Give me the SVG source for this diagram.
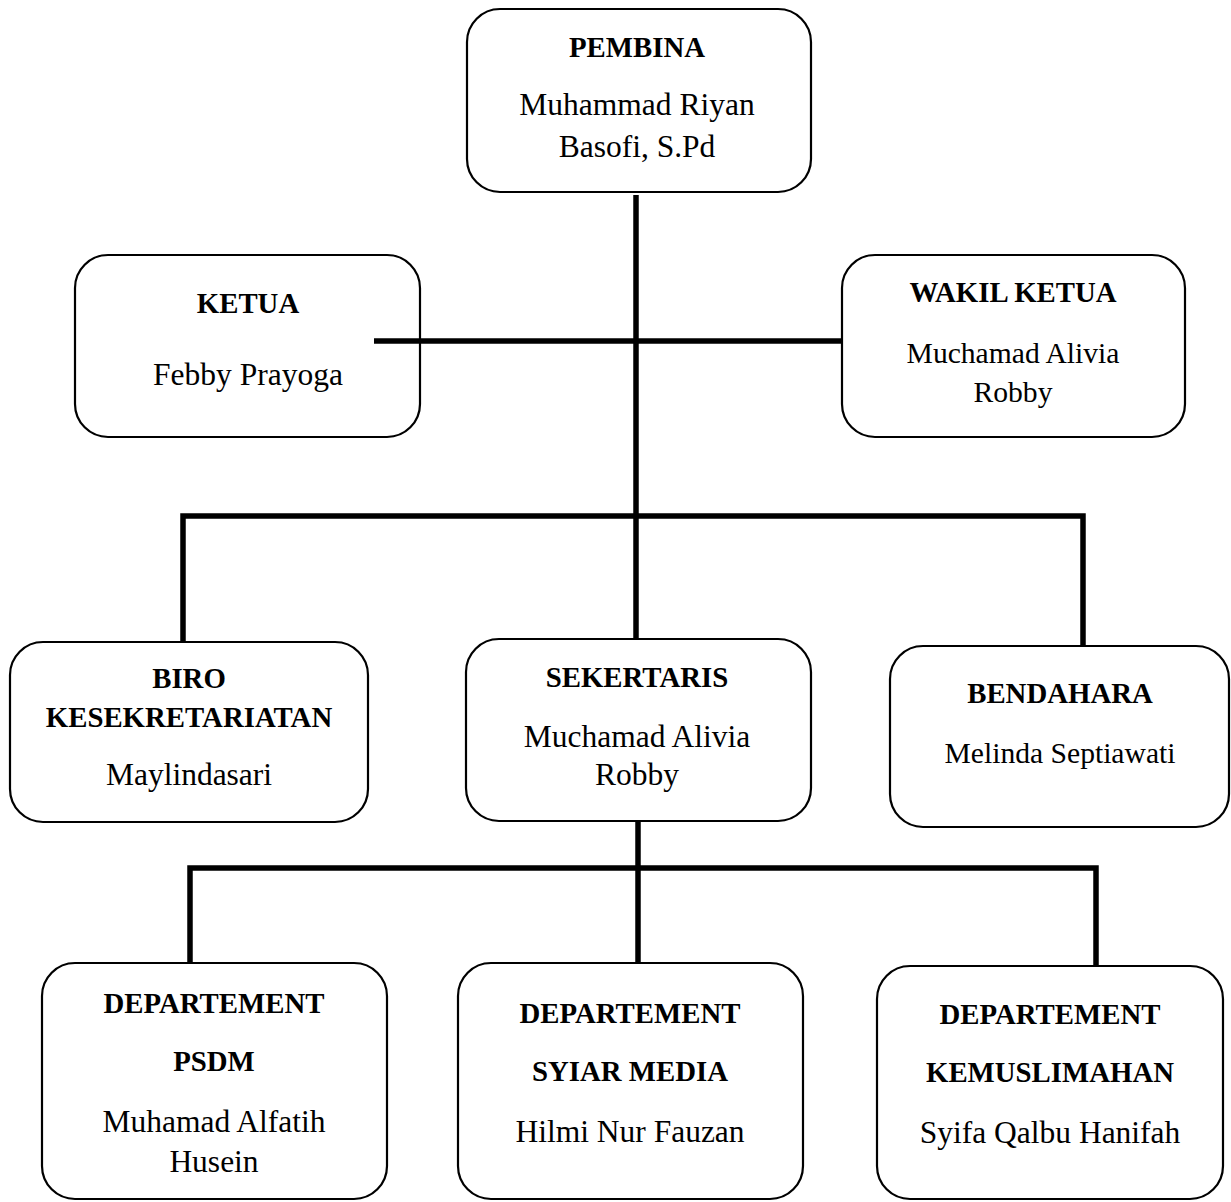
<svg xmlns="http://www.w3.org/2000/svg" width="1231" height="1202" viewBox="0 0 1231 1202">
<style>
.box{fill:#fff;stroke:#000;stroke-width:2.2}
.con{fill:none;stroke:#000;stroke-width:5.5;stroke-linejoin:miter}
text{font-family:"Liberation Serif","Times New Roman",serif;text-anchor:middle;fill:#000}
.h{font-weight:bold;font-size:28.8px}
.n{font-size:31.5px}
.s{font-size:29.6px}
</style>
<rect width="1231" height="1202" fill="#fff"/>
<g id="pembina">
<rect class="box" x="467" y="9" width="344" height="183" rx="33"/>
<text class="h" x="637" y="57">PEMBINA</text>
<text class="n" x="637" y="115">Muhammad Riyan</text>
<text class="n" x="637" y="157">Basofi, S.Pd</text>
</g>
<g id="ketua">
<rect class="box" x="75" y="255" width="345" height="182" rx="33"/>
<text class="h" x="248" y="313">KETUA</text>
<text class="n" x="248" y="385">Febby Prayoga</text>
</g>
<g id="wakil">
<rect class="box" x="842" y="255" width="343" height="182" rx="33"/>
<text class="h" x="1013" y="302">WAKIL KETUA</text>
<text class="s" x="1013" y="363">Muchamad Alivia</text>
<text class="s" x="1013" y="402">Robby</text>
</g>
<g id="biro">
<rect class="box" x="10" y="642" width="358" height="180" rx="33"/>
<text class="h" x="189" y="688">BIRO</text>
<text class="h" x="189" y="727">KESEKRETARIATAN</text>
<text class="n" x="189" y="785">Maylindasari</text>
</g>
<g id="sekertaris">
<rect class="box" x="466" y="639" width="345" height="182" rx="33"/>
<text class="h" x="637" y="687">SEKERTARIS</text>
<text class="n" x="637" y="747">Muchamad Alivia</text>
<text class="n" x="637" y="785">Robby</text>
</g>
<g id="bendahara">
<rect class="box" x="890" y="646" width="339" height="181" rx="33"/>
<text class="h" x="1060" y="703">BENDAHARA</text>
<text class="s" x="1060" y="763">Melinda Septiawati</text>
</g>
<g id="psdm">
<rect class="box" x="42" y="963" width="345" height="236" rx="33"/>
<text class="h" x="214" y="1013">DEPARTEMENT</text>
<text class="h" x="214" y="1071">PSDM</text>
<text class="n" x="214" y="1132">Muhamad Alfatih</text>
<text class="n" x="214" y="1172">Husein</text>
</g>
<g id="syiar">
<rect class="box" x="458" y="963" width="345" height="236" rx="33"/>
<text class="h" x="630" y="1023">DEPARTEMENT</text>
<text class="h" x="630" y="1081">SYIAR MEDIA</text>
<text class="n" x="630" y="1142">Hilmi Nur Fauzan</text>
</g>
<g id="kemuslimahan">
<rect class="box" x="877" y="966" width="346" height="233" rx="33"/>
<text class="h" x="1050" y="1024">DEPARTEMENT</text>
<text class="h" x="1050" y="1082">KEMUSLIMAHAN</text>
<text class="n" x="1050" y="1143">Syifa Qalbu Hanifah</text>
</g>
<g id="connectors">
<path class="con" d="M636 195V638"/>
<path class="con" d="M374 341H842"/>
<path class="con" d="M183 641V516H1083V645"/>
<path class="con" d="M638 822V962"/>
<path class="con" d="M190 962V868H1096V965"/>
</g>
</svg>
